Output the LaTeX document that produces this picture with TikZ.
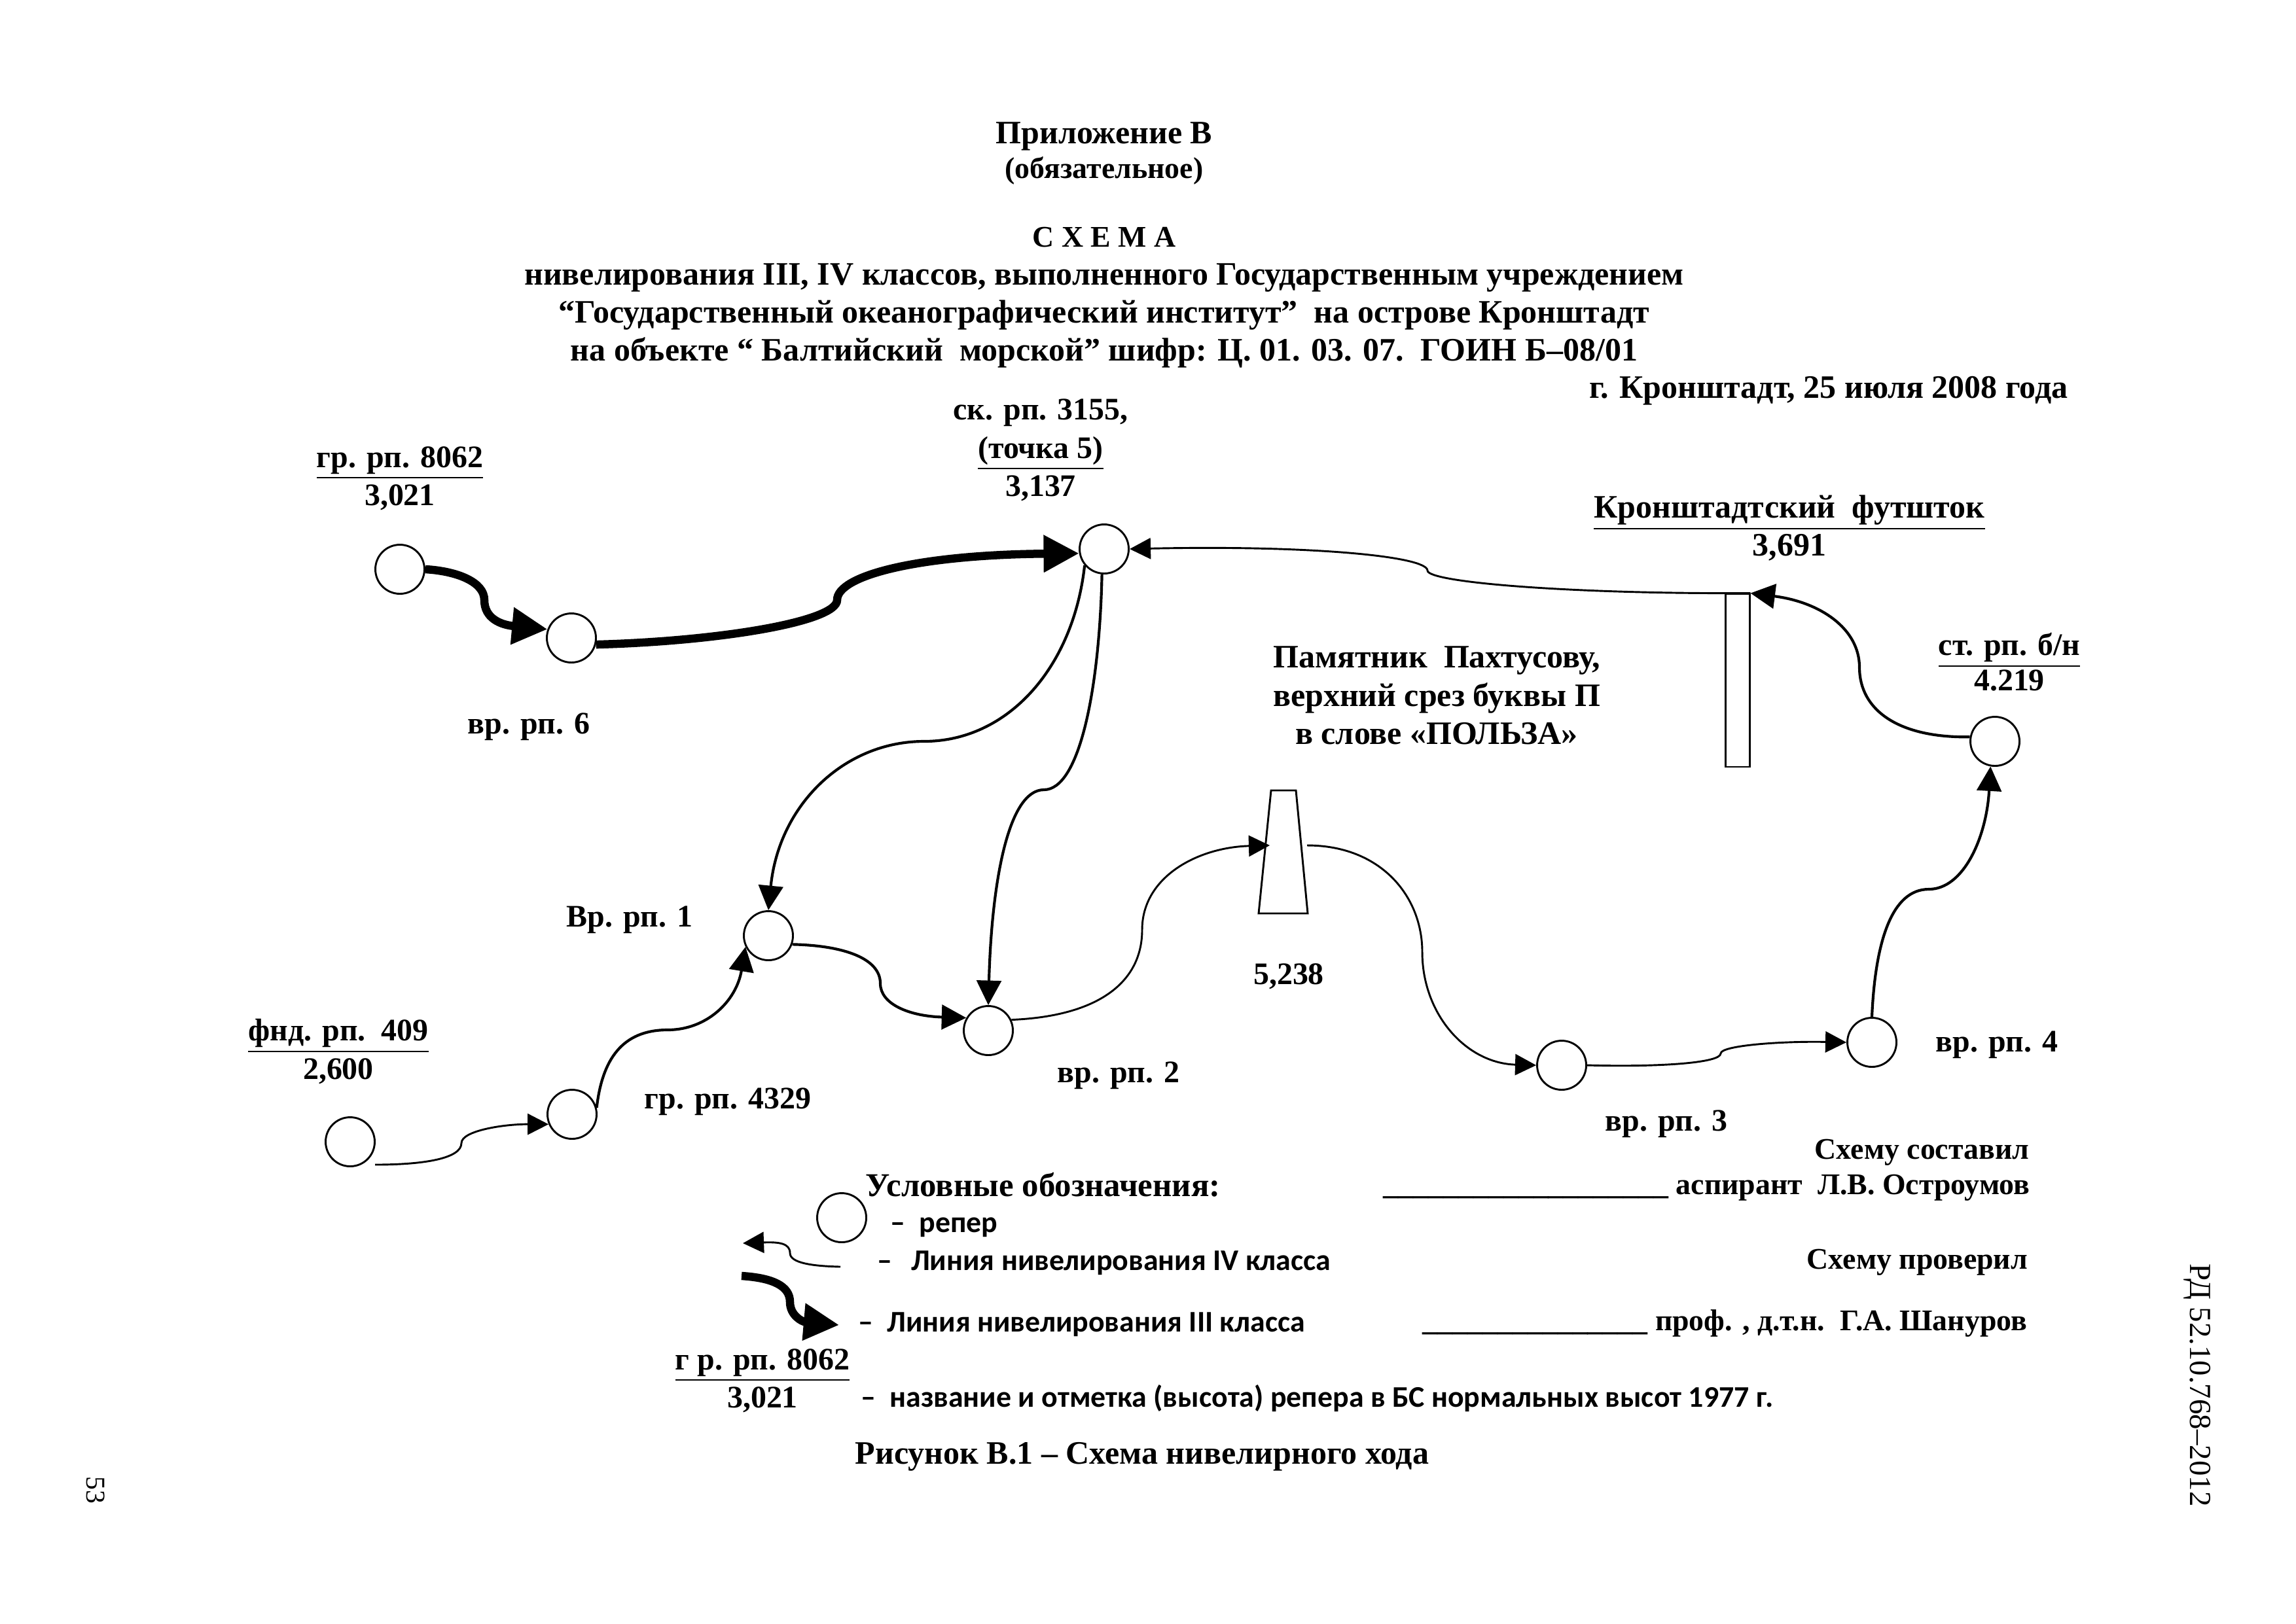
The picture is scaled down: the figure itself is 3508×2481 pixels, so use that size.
\documentclass[tikz,border=0pt]{standalone}
\usepackage{fontspec}
\setmainfont{Liberation Serif}
\newfontfamily\legendfont{Carlito}
\usetikzlibrary{arrows.meta}
\tikzset{
  reper/.style={draw, circle, fill=white, minimum size=18pt, inner sep=0pt, line width=0.7pt},
  lbl/.style={inner sep=0pt, align=center, font=\bfseries\fontsize{11.5}{14}\selectfont},
  lblbig/.style={inner sep=0pt, align=center, font=\bfseries\fontsize{12}{14}\selectfont},
  lblsmall/.style={inner sep=0pt, align=center, font=\bfseries\fontsize{11}{14}\selectfont},
  legendtxt/.style={inner sep=0pt, anchor=west, font=\legendfont\bfseries\fontsize{11}{13}\selectfont},
  thickline/.style={line width=3pt, -{Triangle[length=13pt,width=13pt]}},
  midline/.style={line width=1pt, -{Triangle[length=9pt,width=9pt]}},
  thinline/.style={line width=0.7pt, -{Triangle[length=7.7pt,width=7.7pt]}}
}
\begin{document}
\begin{tikzpicture}[x=0.24pt, y=-0.24pt]
  \useasboundingbox (0,0) rectangle (3508,2481);
  % Heading
  \node[lblbig] (title) at (1687,208) {Приложение В};
  \node[lblsmall] (title2) at (1687,261) {(обязательное)};
  \node[lblsmall] (shema) at (1687,363) {С Х Е М А};
  \node[lblbig] (line1) at (1687,425) {нивелирования III, IV классов, выполненного Государственным учреждением};
  \node[lblbig] (line2) at (1687,482) {“Государственный океанографический институт”~~на острове Кронштадт};
  \node[lblbig] (line3) at (1687,539) {на объекте “ Балтийский~~морской” шифр: Ц. 01. 03. 07.~~ГОИН Б–08/01};
  \node[lblbig] (place) at (2794,597) {г. Кронштадт, 25 июля 2008 года};
  % Benchmarks
  \node[reper] (gr8062) at (611,870) {};
  \node[reper] (vr6) at (873,975) {};
  \node[reper] (sk3155) at (1687,839) {};
  \node[reper] (fnd409) at (535,1745) {};
  \node[reper] (gr4329) at (874,1703) {};
  \node[reper] (vr1) at (1174,1430) {};
  \node[reper] (vr2) at (1510,1575) {};
  \node[reper] (vr3) at (2386,1628) {};
  \node[reper] (vr4) at (2860,1593) {};
  \node[reper] (st) at (3048,1133) {};
  % Tide gauge and monument
  \node[draw, line width=0.7pt, minimum width=37*0.24pt, minimum height=264*0.24pt, inner sep=0pt] (fut) at (2654.5,1040) {};
  \draw[line width=0.7pt] (1942,1208) coordinate (pam) -- (1980,1208) -- (1998,1396) -- (1923,1396) -- cycle;
  \coordinate (pamin) at (1940,1292);
  \coordinate (pamout) at (1997,1292);
  % Labels
  \node[lbl] (lgr8062) at (611,731) {\underline{гр. рп. 8062}\\3,021};
  \node[lbl] (lvr6) at (808,1111) {вр. рп. 6};
  \node[lbl] (lsk) at (1590,688) {ск. рп. 3155,\\\underline{(точка 5)}\\3,137};
  \node[lblbig] (lfut) at (2734,807) {\underline{Кронштадтский~~футшток}\\3,691};
  \node[lblbig] (lpam) at (2195,1063) {Памятник~~Пахтусову,\\верхний срез буквы П\\в слове «ПОЛЬЗА»};
  \node[lbl] (lst) at (3070,1012) {\underline{ст. рп. б/н}\\[-1pt]4.219};
  \node[lbl] (lvr1) at (962,1406) {Вр. рп. 1};
  \node[lbl] (lpamv) at (1969,1492) {5,238};
  \node[lbl] (lfnd) at (517,1607) {\underline{фнд. рп.~~409}\\2,600};
  \node[lbl] (lgr4329) at (1112,1684) {гр. рп. 4329};
  \node[lbl] (lvr2) at (1709,1644) {вр. рп. 2};
  \node[lbl] (lvr3) at (2546,1718) {вр. рп. 3};
  \node[lbl] (lvr4) at (3051,1597) {вр. рп. 4};
  % Class III lines
  \draw[thickline] (gr8062.east) .. controls (700,873) and (740,890) .. (740,917) .. controls (740,945) and (765,955) .. (vr6.160);
  \draw[thickline] (vr6.-15) .. controls (1100,980) and (1279,950) .. (1279,917) .. controls (1279,880) and (1400,848) .. (sk3155.190);
  % Class IV lines
  \draw[thinline] (fut.north east) .. controls (2400,908) and (2181,890) .. (2181,872) .. controls (2181,850) and (2000,833) .. (sk3155.east);
  \draw[midline] (st.170) .. controls (2900,1128) and (2841,1085) .. (2841,1020) .. controls (2841,960) and (2780,920) .. (fut.north east);
  \draw[midline] (vr4.north) .. controls (2865,1440) and (2890,1359) .. (2947,1359) .. controls (3000,1359) and (3035,1280) .. (st.-100);
  \draw[midline] (sk3155.-140) .. controls (1640,1020) and (1540,1133) .. (1412,1133) .. controls (1290,1133) and (1190,1230) .. (vr1.north);
  \draw[midline] (sk3155.-95) .. controls (1680,1050) and (1650,1207) .. (1595,1207) .. controls (1540,1207) and (1515,1350) .. (vr2.north);
  \coordinate (fndout) at (573,1780);
  \draw[thinline] (fndout) .. controls (650,1780) and (705,1770) .. (705,1747) .. controls (705,1728) and (770,1718) .. (gr4329.-157);
  \draw[midline] (gr4329.15) .. controls (920,1620) and (950,1574) .. (1020,1574) .. controls (1080,1574) and (1125,1530) .. (vr1.-154);
  \draw[midline] (vr1.-20) .. controls (1290,1445) and (1345,1465) .. (1345,1503) .. controls (1345,1535) and (1390,1553) .. (vr2.150);
  \draw[thinline] (vr2.25) .. controls (1680,1553) and (1745,1500) .. (1745,1421) .. controls (1745,1340) and (1830,1295) .. (pamin);
  \draw[thinline] (pamout) .. controls (2110,1292) and (2173,1370) .. (2173,1455) .. controls (2173,1550) and (2240,1625) .. (vr3.west);
  \draw[thinline] (vr3.east) .. controls (2530,1631) and (2629,1625) .. (2629,1610) .. controls (2629,1598) and (2720,1591) .. (vr4.west);
  % Signatures
  \node[lblsmall, anchor=west] (sost) at (2772,1761) {Схему составил};
  \node[lblsmall, anchor=west] (sost2) at (2113,1815) {\_\_\_\_\_\_\_\_\_\_\_\_\_\_\_\_\_\_\_ аспирант~~Л.В. Остроумов};
  \node[lblsmall, anchor=west] (prov) at (2760,1929) {Схему проверил};
  \node[lblsmall, anchor=west] (prov2) at (2173,2023) {\_\_\_\_\_\_\_\_\_\_\_\_\_\_\_ проф. , д.т.н.~~Г.А. Шануров};
  % Legend
  \node[lbl, anchor=west, font=\bfseries\fontsize{12.2}{15}\selectfont] (legtitle) at (1322,1811) {Условные обозначения:};
  \node[reper] (legcirc) at (1286,1861) {};
  \node[legendtxt] (leg1) at (1360,1876) {–~~репер};
  \coordinate (legthin) at (1284,1936);
  \coordinate (legthinend) at (1135,1900);
  \draw[thinline] (legthin) .. controls (1240,1935) and (1207,1930) .. (1207,1915) .. controls (1207,1900) and (1190,1898) .. (legthinend);
  \node[legendtxt] (leg2) at (1340,1930) {–~~\,Линия нивелирования IV класса};
  \coordinate (legthick) at (1133,1950);
  \coordinate (legthickend) at (1282,2025);
  \draw[thickline] (legthick) .. controls (1180,1953) and (1207,1965) .. (1207,1990) .. controls (1207,2010) and (1225,2020) .. (legthickend);
  \node[legendtxt] (leg3) at (1311,2024) {–~~Линия нивелирования III класса};
  \node[lbl] (legrp) at (1165,2110) {\underline{г р. рп. 8062}\\3,021};
  \node[legendtxt] (leg4) at (1315,2137) {–~~название и отметка (высота) репера в БС нормальных высот 1977 г.};
  \node[lblbig] (caption) at (1745,2226) {Рисунок В.1 – Схема нивелирного хода};
  % Margin text
  \node[inner sep=0pt, rotate=-90, font=\fontsize{11.25}{14}\selectfont] (doc) at (3357,2117) {РД 52.10.768–2012};
  \node[inner sep=0pt, rotate=-90, font=\fontsize{10}{12}\selectfont] (page) at (146,2277) {53};
\end{tikzpicture}
\end{document}
